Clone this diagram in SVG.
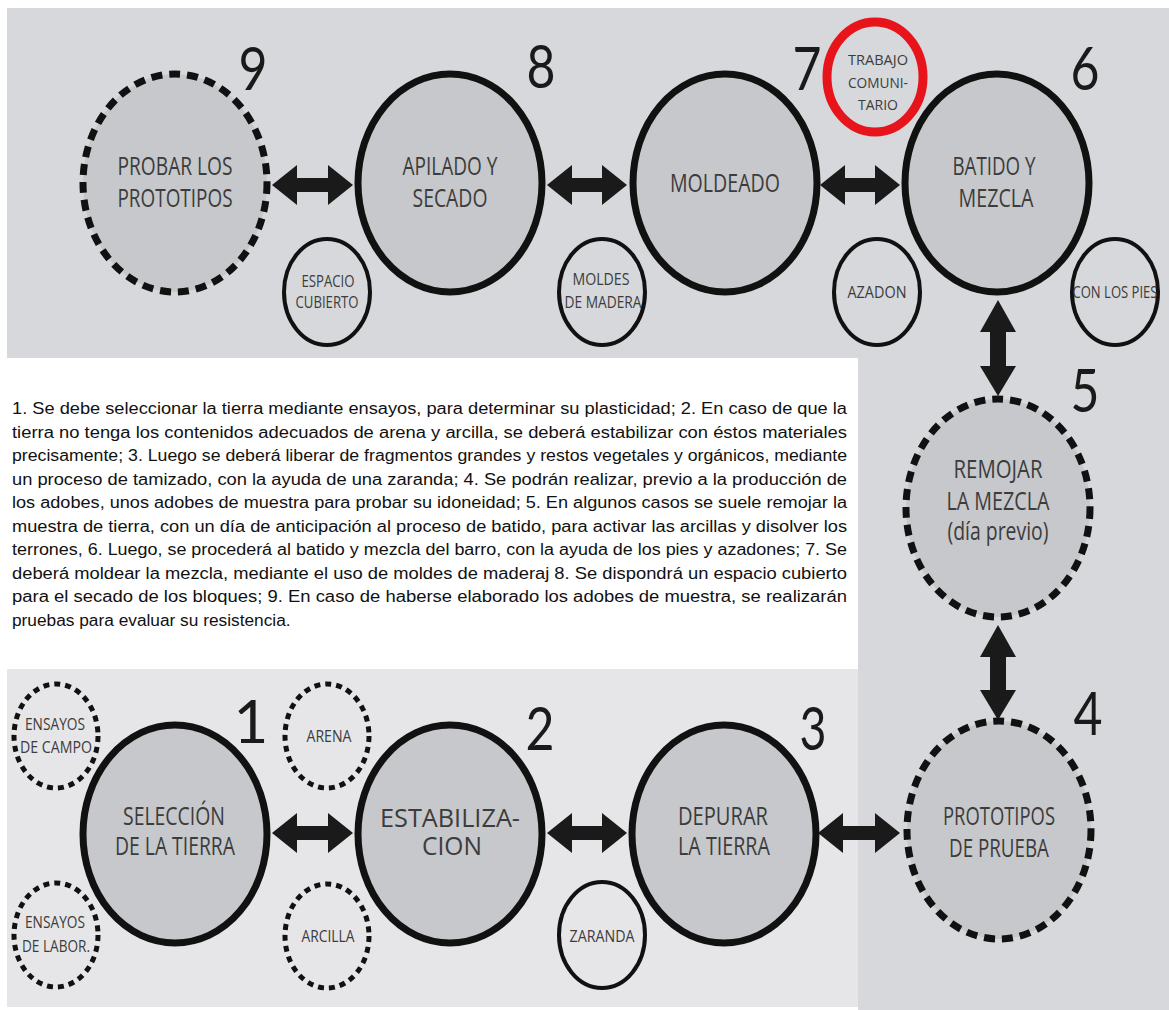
<svg xmlns="http://www.w3.org/2000/svg" width="1169" height="1010" viewBox="0 0 1169 1010">
<style>
.big{fill:#c6c8cb;stroke:#111;stroke-width:7}
.bigd{fill:#c6c8cb;stroke:#111;stroke-width:7;stroke-dasharray:11 7}
.sm{fill:none;stroke:#111;stroke-width:4}
.smd{fill:none;stroke:#111;stroke-width:5;stroke-dasharray:6 5}
.red{fill:none;stroke:#e8141b;stroke-width:9}
.lb{font-family:"Open Sans","Liberation Sans",sans-serif;font-size:25px;fill:#3c3c3c;text-anchor:middle}
.ls{font-family:"Open Sans","Liberation Sans",sans-serif;font-size:17px;fill:#3c3c3c;text-anchor:middle}
.lr{font-family:"Open Sans","Liberation Sans",sans-serif;font-size:15px;fill:#3c3c3c;text-anchor:middle}
.num{font-family:"Lato","Liberation Sans",sans-serif;font-weight:400;font-size:60px;fill:#1a1a1a;text-anchor:middle}
.par{font-family:"Liberation Sans",Arial,sans-serif;font-size:17.3px;fill:#111}
.arr{fill:#1a1a1a}
</style>
<rect x="0" y="0" width="1169" height="1010" fill="#ffffff"/>
<rect x="7" y="8" width="1162" height="350" fill="#d6d8db"/>
<rect x="858" y="350" width="311" height="660" fill="#d6d8db"/>
<rect x="7" y="669" width="851" height="338" fill="#e6e6e8"/>
<rect x="0" y="358" width="858" height="311" fill="#ffffff"/>

<g id="connectors">
<path class="arr" d="M272,185 L297,165 L297,178 L328,178 L328,165 L353,185 L328,205 L328,192 L297,192 L297,205 Z"/>
<path class="arr" d="M547,185 L572,165 L572,178 L602,178 L602,165 L627,185 L602,205 L602,192 L572,192 L572,205 Z"/>
<path class="arr" d="M820,185 L845,165 L845,178 L875,178 L875,165 L900,185 L875,205 L875,192 L845,192 L845,205 Z"/>
<path class="arr" d="M998,300 L1016,332 L1006,332 L1006,366 L1016,366 L998,396 L980,366 L990,366 L990,332 L980,332 Z"/>
<path class="arr" d="M998,625 L1016,657 L1006,657 L1006,690 L1016,690 L998,720 L980,690 L990,690 L990,657 L980,657 Z"/>
<path class="arr" d="M272,833 L297,813 L297,826 L328,826 L328,813 L353,833 L328,853 L328,840 L297,840 L297,853 Z"/>
<path class="arr" d="M547,833 L572,813 L572,826 L602,826 L602,813 L627,833 L602,853 L602,840 L572,840 L572,853 Z"/>
<path class="arr" d="M818,833 L843,813 L843,826 L875,826 L875,813 L900,833 L875,853 L875,840 L843,840 L843,853 Z"/>
</g>

<g id="n9">
<ellipse class="bigd" cx="175" cy="183" rx="92" ry="109"/>
<text class="lb" x="175" y="175" textLength="115" lengthAdjust="spacingAndGlyphs">PROBAR LOS</text>
<text class="lb" x="175" y="207" textLength="115" lengthAdjust="spacingAndGlyphs">PROTOTIPOS</text>
<text class="num" x="253" y="90" textLength="29" lengthAdjust="spacingAndGlyphs">9</text>
</g>
<g id="n8">
<ellipse class="big" cx="450" cy="183" rx="92" ry="109"/>
<text class="lb" x="450" y="175" textLength="95" lengthAdjust="spacingAndGlyphs">APILADO Y</text>
<text class="lb" x="450" y="207" textLength="75" lengthAdjust="spacingAndGlyphs">SECADO</text>
<text class="num" x="541" y="88" textLength="29" lengthAdjust="spacingAndGlyphs">8</text>
</g>
<g id="n7">
<ellipse class="big" cx="725" cy="183" rx="92" ry="109"/>
<text class="lb" x="725" y="192" textLength="110" lengthAdjust="spacingAndGlyphs">MOLDEADO</text>
<text class="num" x="807" y="90" textLength="29" lengthAdjust="spacingAndGlyphs">7</text>
</g>
<g id="n6">
<ellipse class="big" cx="997" cy="183" rx="92" ry="109"/>
<text class="lb" x="994" y="175" textLength="83" lengthAdjust="spacingAndGlyphs">BATIDO Y</text>
<text class="lb" x="996" y="207" textLength="75" lengthAdjust="spacingAndGlyphs">MEZCLA</text>
<text class="num" x="1085" y="90" textLength="29" lengthAdjust="spacingAndGlyphs">6</text>
</g>
<g id="n5">
<ellipse class="bigd" cx="998" cy="508" rx="92" ry="109"/>
<text class="lb" x="998" y="478" textLength="89" lengthAdjust="spacingAndGlyphs">REMOJAR</text>
<text class="lb" x="998" y="510" textLength="103" lengthAdjust="spacingAndGlyphs">LA MEZCLA</text>
<text class="lb" x="998" y="540" textLength="101" lengthAdjust="spacingAndGlyphs">(día previo)</text>
<text class="num" x="1085" y="412" textLength="29" lengthAdjust="spacingAndGlyphs">5</text>
</g>
<g id="n4">
<ellipse class="bigd" cx="999" cy="830" rx="92" ry="109"/>
<text class="lb" x="999" y="825" textLength="112" lengthAdjust="spacingAndGlyphs">PROTOTIPOS</text>
<text class="lb" x="999" y="857" textLength="100" lengthAdjust="spacingAndGlyphs">DE PRUEBA</text>
<text class="num" x="1088" y="735" textLength="29" lengthAdjust="spacingAndGlyphs">4</text>
</g>
<g id="n1">
<ellipse class="big" cx="175" cy="834" rx="92" ry="109"/>
<text class="lb" x="174" y="825" textLength="102" lengthAdjust="spacingAndGlyphs">SELECCIÓN</text>
<text class="lb" x="175" y="855" textLength="120" lengthAdjust="spacingAndGlyphs">DE LA TIERRA</text>
<text class="num" x="251" y="743">1</text>
</g>
<g id="n2">
<ellipse class="big" cx="450" cy="834" rx="92" ry="109"/>
<text class="lb" x="450" y="827" textLength="140" lengthAdjust="spacingAndGlyphs">ESTABILIZA-</text>
<text class="lb" x="452" y="855" textLength="60" lengthAdjust="spacingAndGlyphs">CION</text>
<text class="num" x="540" y="750" textLength="29" lengthAdjust="spacingAndGlyphs">2</text>
</g>
<g id="n3">
<ellipse class="big" cx="724" cy="834" rx="92" ry="109"/>
<text class="lb" x="723" y="825" textLength="90" lengthAdjust="spacingAndGlyphs">DEPURAR</text>
<text class="lb" x="724" y="855" textLength="92" lengthAdjust="spacingAndGlyphs">LA TIERRA</text>
<text class="num" x="813" y="750" textLength="27" lengthAdjust="spacingAndGlyphs">3</text>
</g>

<g id="trabajo">
<ellipse class="red" cx="875" cy="77" rx="48" ry="55"/>
<text class="lr" x="878" y="65" textLength="60" lengthAdjust="spacingAndGlyphs">TRABAJO</text>
<text class="lr" x="878" y="88" textLength="60" lengthAdjust="spacingAndGlyphs">COMUNI-</text>
<text class="lr" x="878" y="110" textLength="40" lengthAdjust="spacingAndGlyphs">TARIO</text>
</g>
<g id="espacio">
<ellipse class="sm" cx="327" cy="292" rx="43" ry="53"/>
<text class="ls" x="328" y="287" textLength="53" lengthAdjust="spacingAndGlyphs">ESPACIO</text>
<text class="ls" x="327" y="308" textLength="63" lengthAdjust="spacingAndGlyphs">CUBIERTO</text>
</g>
<g id="moldes">
<ellipse class="sm" cx="602" cy="292" rx="43" ry="53"/>
<text class="ls" x="601" y="285" textLength="57" lengthAdjust="spacingAndGlyphs">MOLDES</text>
<text class="ls" x="603" y="308" textLength="77" lengthAdjust="spacingAndGlyphs">DE MADERA</text>
</g>
<g id="azadon">
<ellipse class="sm" cx="877" cy="292" rx="43" ry="53"/>
<text class="ls" x="877" y="298" textLength="59" lengthAdjust="spacingAndGlyphs">AZADON</text>
</g>
<g id="pies">
<ellipse class="sm" cx="1115" cy="292" rx="43" ry="53"/>
<text class="ls" x="1115" y="298" textLength="85" lengthAdjust="spacingAndGlyphs">CON LOS PIES</text>
</g>
<g id="campo">
<ellipse class="smd" cx="56" cy="736" rx="42" ry="52"/>
<text class="ls" x="55" y="730" textLength="60" lengthAdjust="spacingAndGlyphs">ENSAYOS</text>
<text class="ls" x="56" y="753" textLength="72" lengthAdjust="spacingAndGlyphs">DE CAMPO</text>
</g>
<g id="labor">
<ellipse class="smd" cx="56" cy="935" rx="42" ry="52"/>
<text class="ls" x="55" y="928" textLength="60" lengthAdjust="spacingAndGlyphs">ENSAYOS</text>
<text class="ls" x="56" y="952" textLength="68" lengthAdjust="spacingAndGlyphs">DE LABOR.</text>
</g>
<g id="arena">
<ellipse class="smd" cx="327" cy="736" rx="42" ry="52"/>
<text class="ls" x="329" y="742" textLength="45" lengthAdjust="spacingAndGlyphs">ARENA</text>
</g>
<g id="arcilla">
<ellipse class="smd" cx="327" cy="936" rx="42" ry="52"/>
<text class="ls" x="328" y="942" textLength="53" lengthAdjust="spacingAndGlyphs">ARCILLA</text>
</g>
<g id="zaranda">
<ellipse class="sm" cx="602" cy="935" rx="43" ry="53"/>
<text class="ls" x="602" y="942" textLength="65" lengthAdjust="spacingAndGlyphs">ZARANDA</text>
</g>

<g id="paragraph" class="par">
<text x="12" y="414" textLength="835" lengthAdjust="spacingAndGlyphs">1. Se debe seleccionar la tierra mediante ensayos, para determinar su plasticidad; 2. En caso de que la</text>
<text x="12" y="437.5" textLength="835" lengthAdjust="spacingAndGlyphs">tierra no tenga los contenidos adecuados de arena y arcilla, se deberá estabilizar con éstos materiales</text>
<text x="12" y="461" textLength="835" lengthAdjust="spacingAndGlyphs">precisamente; 3. Luego se deberá liberar de fragmentos grandes y restos vegetales y orgánicos, mediante</text>
<text x="12" y="484.5" textLength="835" lengthAdjust="spacingAndGlyphs">un proceso de tamizado, con la ayuda de una zaranda; 4. Se podrán realizar, previo a la producción de</text>
<text x="12" y="508" textLength="835" lengthAdjust="spacingAndGlyphs">los adobes, unos adobes de muestra para probar su idoneidad; 5. En algunos casos se suele remojar la</text>
<text x="12" y="531.5" textLength="835" lengthAdjust="spacingAndGlyphs">muestra de tierra, con un día de anticipación al proceso de batido, para activar las arcillas y disolver los</text>
<text x="12" y="555" textLength="835" lengthAdjust="spacingAndGlyphs">terrones, 6. Luego, se procederá al batido y mezcla del barro, con la ayuda de los pies y azadones; 7. Se</text>
<text x="12" y="578.5" textLength="835" lengthAdjust="spacingAndGlyphs">deberá moldear la mezcla, mediante el uso de moldes de maderaj 8. Se dispondrá un espacio cubierto</text>
<text x="12" y="602" textLength="835" lengthAdjust="spacingAndGlyphs">para el secado de los bloques; 9. En caso de haberse elaborado los adobes de muestra, se realizarán</text>
<text x="12" y="625.5">pruebas para evaluar su resistencia.</text>
</g>
</svg>
